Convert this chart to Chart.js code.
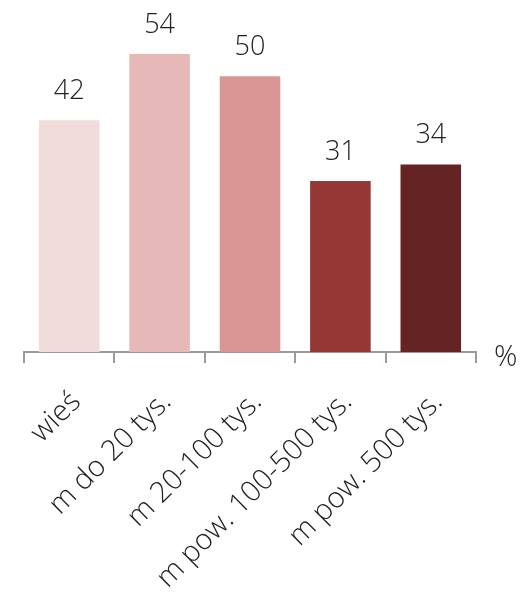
<!DOCTYPE html>
<html><head><meta charset="utf-8">
<script src="https://cdn.jsdelivr.net/npm/chart.js@4/dist/chart.umd.min.js"></script>
<style>html,body{margin:0;padding:0;background:#fff}#w{width:526px;height:595px}</style>
</head><body><div id="w"><canvas id="c"></canvas></div>
<script>
const categories = ["wieś", "m do 20 tys.", "m 20-100 tys.", "m pow. 100-500 tys.", "m pow. 500 tys."];
const values = [42, 54, 50, 31, 34];
const barColors = ["#F2DCDB", "#E6B9B8", "#D99694", "#953735", "#632423"];
const unitLabel = "%";
const FONT = "'Open Sans', 'Noto Sans', sans-serif";

const labelsPlugin = {
  id: 'vals',
  afterDatasetsDraw(chart) {
    const ctx = chart.ctx;
    const meta = chart.getDatasetMeta(0);
    ctx.save();
    ctx.fillStyle = '#222';
    ctx.font = '300 27px ' + FONT;
    ctx.textAlign = 'center';
    ctx.textBaseline = 'alphabetic';
    meta.data.forEach((bar, i) => {
      ctx.fillText(String(values[i]), bar.x, bar.y - 21);
    });
    const xs = chart.scales.x;
    ctx.font = '300 29px ' + FONT;
    ctx.textAlign = 'left';
    ctx.textBaseline = 'middle';
    ctx.fillText(unitLabel, chart.chartArea.right + 18, xs.top + 6);
    ctx.restore();
  }
};

new Chart(document.getElementById('c'), {
  type: 'bar',
  data: { labels: categories, datasets: [{ data: values, backgroundColor: barColors, borderWidth: 0, categoryPercentage: 0.67, barPercentage: 1 }] },
  options: {
    responsive: true, maintainAspectRatio: false, animation: false,
    layout: { padding: { left: 24, right: 50, top: 21, bottom: 0 } },
    plugins: { legend: { display: false }, tooltip: { enabled: false } },
    scales: {
      y: { display: false, min: 0, max: 60 },
      x: {
        afterFit(scale) { scale.height = 243; },
        grid: { offset: true, drawOnChartArea: false, drawTicks: true, tickLength: 11, color: '#9a9a9a', lineWidth: 2 },
        border: { display: true, color: '#9a9a9a', width: 2 },
        ticks: { color: '#222', font: { family: FONT, size: 29, weight: 300 }, maxRotation: 45, minRotation: 45, padding: 22, labelOffset: 7, autoSkip: false }
      }
    }
  },
  plugins: [labelsPlugin]
});
</script></body></html>
